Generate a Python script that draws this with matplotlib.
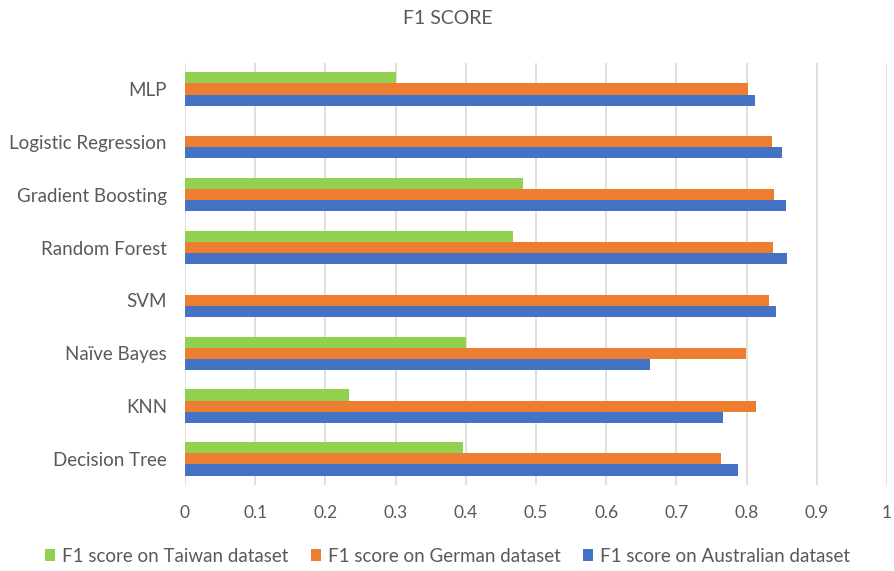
import numpy as np
import matplotlib.pyplot as plt

plt.rcParams['font.family'] = ['Lato', 'DejaVu Sans']

# models listed bottom to top
models = ['Decision Tree', 'KNN', 'Naïve Bayes', 'SVM', 'Random Forest',
          'Gradient Boosting', 'Logistic Regression', 'MLP']
taiwan = [0.396, 0.233, 0.400, 0.0, 0.467, 0.481, 0.0, 0.300]
german = [0.763, 0.813, 0.799, 0.832, 0.837, 0.839, 0.836, 0.802]
australian = [0.788, 0.767, 0.663, 0.842, 0.858, 0.856, 0.850, 0.812]
xticks = [0, 0.1, 0.2, 0.3, 0.4, 0.5, 0.6, 0.7, 0.8, 0.9, 1]
xtick_labels = ['0', '0.1', '0.2', '0.3', '0.4', '0.5', '0.6', '0.7', '0.8', '0.9', '1']

fig = plt.figure(figsize=(8.95, 5.71), dpi=100)
ax = fig.add_axes([0.2067, 0.150, 0.7843, 0.7405])

y = np.arange(len(models))
h = 0.21
txt = '#595959'
ax.barh(y + h, taiwan, height=h, color='#92D050', label='F1 score on Taiwan dataset', zorder=3)
ax.barh(y, german, height=h, color='#ED7D31', label='F1 score on German dataset', zorder=3)
ax.barh(y - h, australian, height=h, color='#4472C4', label='F1 score on Australian dataset', zorder=3)

ax.set_xlim(0, 1)
ax.set_ylim(-0.5, len(models) - 0.5)
ax.set_xticks(xticks)
ax.set_xticklabels(xtick_labels, color=txt, fontsize=12.5)
ax.set_yticks(y)
ax.set_yticklabels(models, color=txt, fontsize=13.5)
ax.tick_params(length=0)
ax.tick_params(axis='x', pad=14)
ax.tick_params(axis='y', pad=13)
ax.grid(axis='x', color='#D9D9D9', linewidth=1.2, zorder=0)
for s in ax.spines.values():
    s.set_visible(False)

fig.text(0.5, 0.968, 'F1 SCORE', ha='center', va='center', color=txt, fontsize=14)

fig.legend(loc='center', bbox_to_anchor=(0.5, 0.026), ncol=3, frameon=False,
           fontsize=13.5, labelcolor=txt, handlelength=0.55, handleheight=0.55,
           handletextpad=0.35, columnspacing=1.2)

plt.savefig('out.png', dpi=100)
plt.close()
